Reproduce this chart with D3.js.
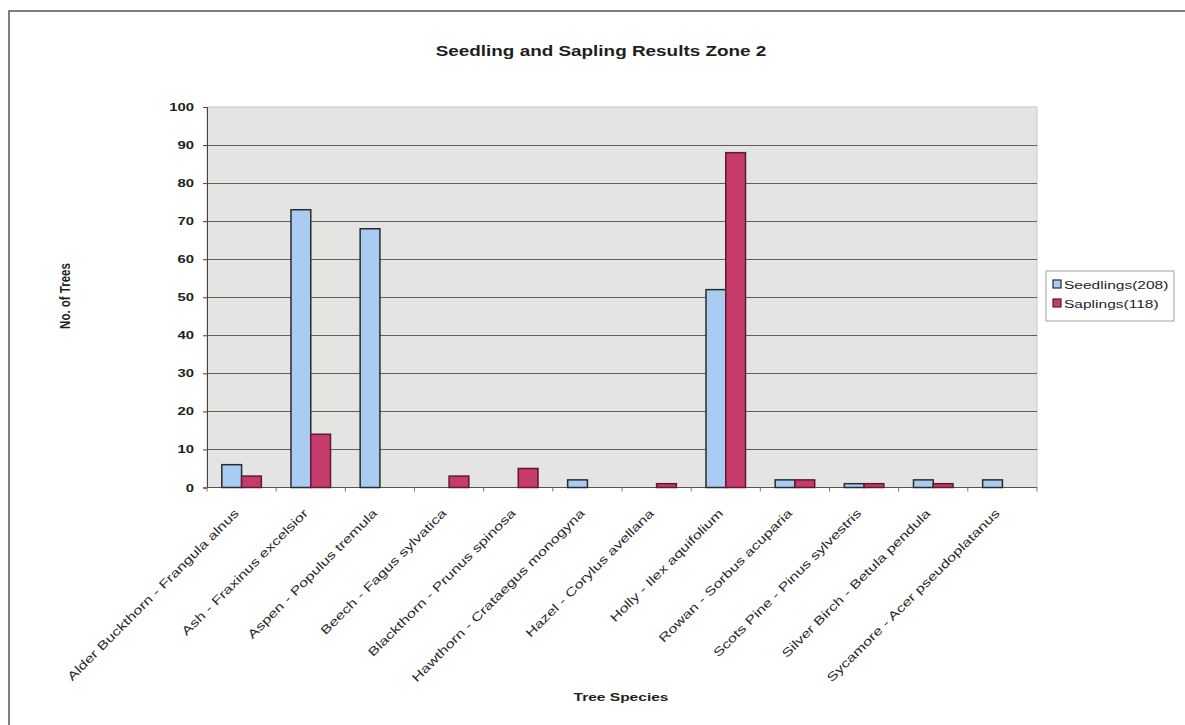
<!DOCTYPE html>
<html>
<head>
<meta charset="utf-8">
<script src="https://cdn.jsdelivr.net/npm/d3@7"></script>
<style>
  html, body { margin: 0; padding: 0; background: #fff; }
  svg { display: block; font-family: "Liberation Sans", Arial, Helvetica, sans-serif; }
</style>
</head>
<body>
<svg id="chart" width="1185" height="725"></svg>
<script>
// ---- data ----
const species = [
  "Alder Buckthorn - Frangula alnus",
  "Ash - Fraxinus excelsior",
  "Aspen - Populus tremula",
  "Beech - Fagus sylvatica",
  "Blackthorn - Prunus spinosa",
  "Hawthorn - Crataegus monogyna",
  "Hazel - Corylus avellana",
  "Holly - Ilex aquifolium",
  "Rowan - Sorbus acuparia",
  "Scots Pine - Pinus sylvestris",
  "Silver Birch - Betula pendula",
  "Sycamore - Acer pseudoplatanus"
];
const seedlings = [6, 73, 68, 0, 0, 2, 0, 52, 2, 1, 2, 2];
const saplings  = [3, 14, 0, 3, 5, 0, 1, 88, 2, 1, 1, 0];
const seriesNames = ["Seedlings(208)", "Saplings(118)"];
const yTicks = [0, 10, 20, 30, 40, 50, 60, 70, 80, 90, 100];
const chartTitle = "Seedling and Sapling Results Zone 2";
const xTitle = "Tree Species";
const yTitle = "No. of Trees";

// ---- styling ----
const colors = ["#a8ccf2", "#c63a6c"];
const strokes = ["#2b2b2b", "#5a1c34"];
const SX = 1.35;   // horizontal widening of the lettering
const plot = { left: 207, right: 1037, top: 107, bottom: 487.5 };

const svg = d3.select("#chart");
svg.append("rect").attr("width", 1185).attr("height", 725).attr("fill", "#fff");

// outer chart frame (top and left edges)
svg.append("path")
  .attr("d", "M9,740 L9,11 L1200,11")
  .attr("fill", "none").attr("stroke", "#555").attr("stroke-width", 1.5);

// scales
const x0 = d3.scaleBand().domain(species).range([plot.left, plot.right]).paddingInner(0).paddingOuter(0);
const x1 = d3.scaleBand().domain([0, 1]).range([0, x0.bandwidth()]).paddingInner(0).paddingOuter(0.75);
const y = d3.scaleLinear().domain([0, 100]).range([plot.bottom, plot.top]);

// plot background
svg.append("rect")
  .attr("x", plot.left).attr("y", y(100))
  .attr("width", plot.right - plot.left).attr("height", y(0) - y(100))
  .attr("fill", "#e4e4e2").attr("stroke", "#c8c8c8").attr("stroke-width", 1);

// horizontal gridlines
svg.append("g").selectAll("line")
  .data(yTicks.filter(d => d > 0 && d < 100))
  .join("line")
  .attr("x1", plot.left).attr("x2", plot.right)
  .attr("y1", d => Math.round(y(d)) + 0.5).attr("y2", d => Math.round(y(d)) + 0.5)
  .attr("stroke", "#5e5e5e").attr("stroke-width", 1);

// y axis
const yAxis = d3.axisLeft(y).tickValues(yTicks).tickSize(4).tickPadding(10).tickFormat(d3.format("d"));
const gy = svg.append("g").attr("transform", `translate(${plot.left},0)`).call(yAxis);
gy.select(".domain").attr("stroke", "#444");
gy.selectAll(".tick line").attr("stroke", "#444");
gy.selectAll(".tick text").each(function () {
  const t = d3.select(this);
  t.attr("font-size", 11).attr("font-weight", "bold").attr("fill", "#1e1e1e")
   .attr("transform", `translate(-13,0) scale(${SX},1)`).attr("x", 0);
});

// x axis (ticks between categories)
const boundaries = d3.range(species.length + 1).map(i => plot.left + i * x0.step());
svg.append("line")
  .attr("x1", plot.left).attr("x2", plot.right)
  .attr("y1", plot.bottom).attr("y2", plot.bottom)
  .attr("stroke", "#555").attr("stroke-width", 1.2);
svg.append("g").selectAll("line").data(boundaries).join("line")
  .attr("x1", d => d).attr("x2", d => d)
  .attr("y1", plot.bottom).attr("y2", plot.bottom + 4)
  .attr("stroke", "#777");

// bars
const rows = species.map((s, i) => ({ s, v: [seedlings[i], saplings[i]] }));
const groups = svg.append("g").selectAll("g").data(rows).join("g")
  .attr("transform", d => `translate(${x0(d.s)},0)`);
groups.selectAll("rect")
  .data(d => d.v.map((v, k) => ({ v, k })).filter(e => e.v > 0))
  .join("rect")
  .attr("x", e => x1(e.k))
  .attr("y", e => y(e.v))
  .attr("width", x1.bandwidth())
  .attr("height", e => y(0) - y(e.v))
  .attr("fill", e => colors[e.k])
  .attr("stroke", e => strokes[e.k])
  .attr("stroke-width", 1.5);

// category labels, rotated
svg.append("g").selectAll("g").data(species).join("g")
  .attr("transform", d => `translate(${x0(d) + x0.bandwidth() / 2 - 2},514) rotate(-45) scale(${SX},1)`)
  .append("text")
  .attr("text-anchor", "end")
  .attr("font-size", 12)
  .attr("fill", "#2a2a2a")
  .text(d => d);

// chart title
svg.append("g").attr("transform", `translate(601,56) scale(${SX},1)`)
  .append("text").attr("text-anchor", "middle")
  .attr("font-size", 14).attr("font-weight", "bold").attr("fill", "#1e1e1e")
  .text(chartTitle);

// axis titles
svg.append("g").attr("transform", `translate(621,701) scale(${SX},1)`)
  .append("text").attr("text-anchor", "middle")
  .attr("font-size", 11.5).attr("font-weight", "bold").attr("fill", "#1e1e1e")
  .text(xTitle);
svg.append("g").attr("transform", `translate(70,296) rotate(-90) scale(1,${SX})`)
  .append("text").attr("text-anchor", "middle")
  .attr("font-size", 11.5).attr("font-weight", "bold").attr("fill", "#1e1e1e")
  .text(yTitle);

// legend
const lg = svg.append("g");
lg.append("rect").attr("x", 1046).attr("y", 271).attr("width", 128).attr("height", 50)
  .attr("fill", "#fff").attr("stroke", "#a0a0a0").attr("stroke-width", 1);
const items = lg.selectAll("g").data(seriesNames).join("g")
  .attr("transform", (d, i) => `translate(1053,${280 + i * 19})`);
items.append("rect").attr("width", 8).attr("height", 8)
  .attr("fill", (d, i) => colors[i]).attr("stroke", (d, i) => strokes[i]).attr("stroke-width", 1.2);
items.append("g").attr("transform", `translate(11,8.5) scale(${SX},1)`)
  .append("text").attr("font-size", 11.5).attr("fill", "#1e1e1e").text(d => d);
</script>
</body>
</html>
